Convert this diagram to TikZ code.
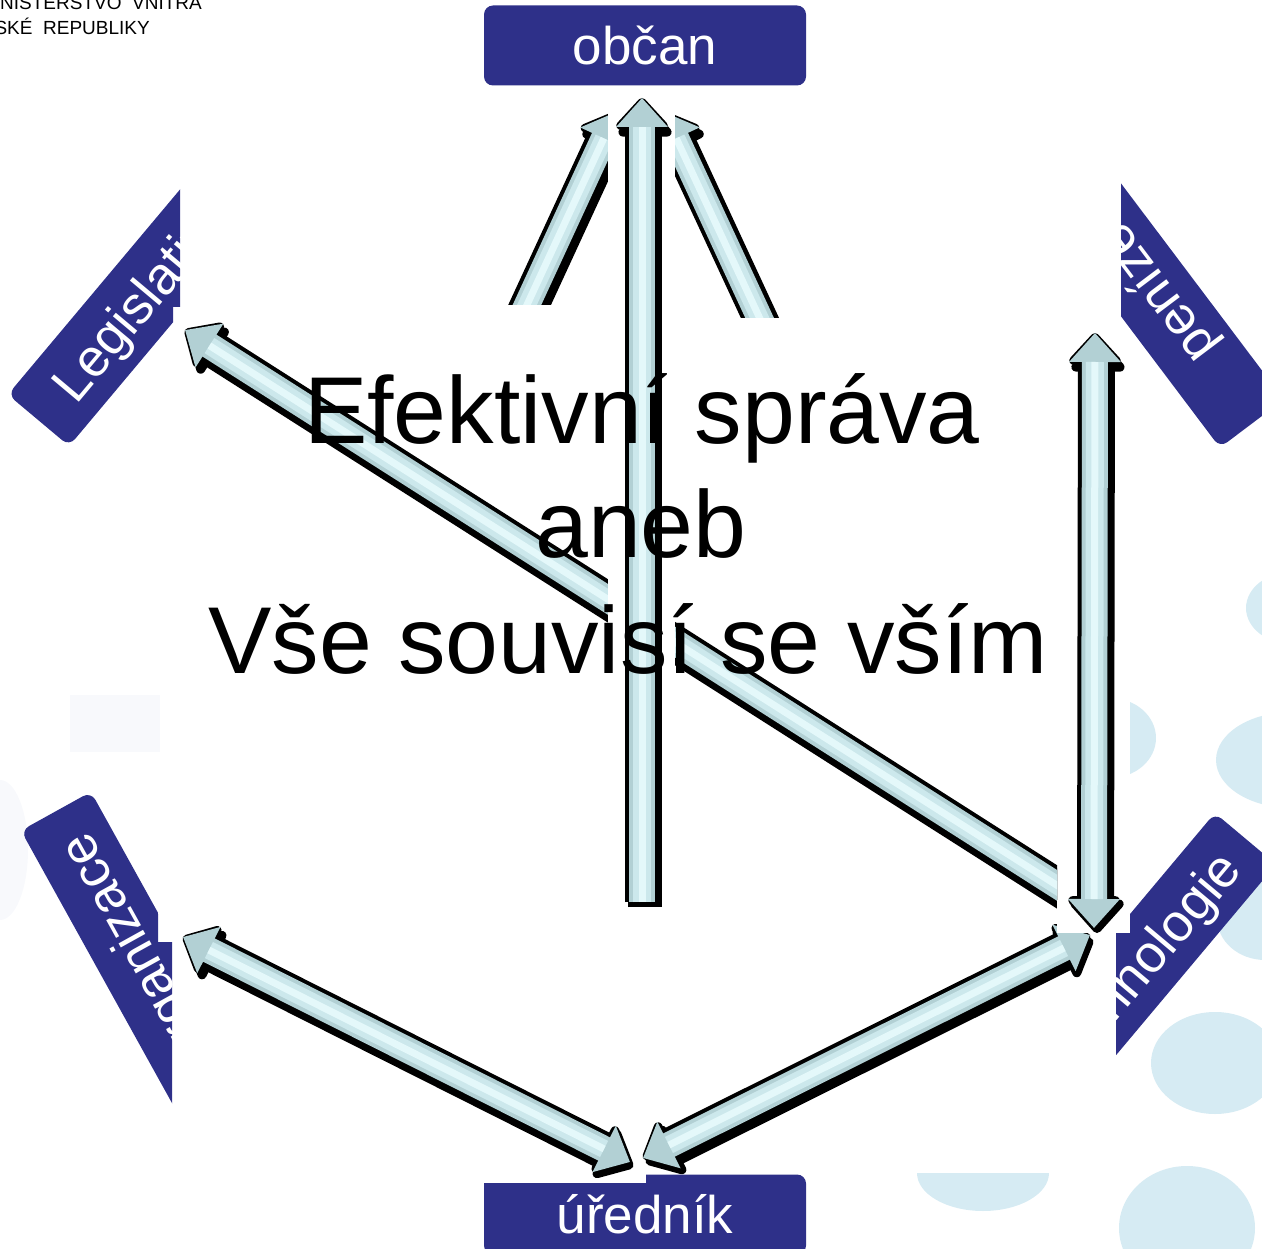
\documentclass[tikz,border=0pt]{standalone}
\usepackage{fontspec}
\setmainfont{Liberation Sans}
\usetikzlibrary{arrows.meta}
\definecolor{boxblue}{RGB}{46,48,137}
\definecolor{dotblue}{RGB}{214,235,243}
\definecolor{faintgrey}{RGB}{248,249,252}
\definecolor{arrmid}{RGB}{178,208,212}
\definecolor{arrlt}{RGB}{204,232,236}
\definecolor{arrhl}{RGB}{228,248,250}
\newcommand\myfatarrow[4]{%
  \draw[arrshadow,#1] ([shift={(3,5)}]#2) -- ([shift={(3,5)}]#3);
  \draw[arroutline,#1] (#2) -- (#3);
  \draw[arrbody,#1] (#2) -- (#3);
  \draw[arrlight,#4] (#2) -- (#3);
  \draw[arrhigh,#4] (#2) -- (#3);
}
\begin{document}
\begin{tikzpicture}[x=1pt,y=-1pt,
  bluebox/.style={fill=boxblue, text=white, rounded corners=9pt,
    minimum width=322pt, minimum height=80pt, inner sep=0pt,
    font=\fontsize{53}{60}\selectfont, text height=38pt, text depth=0pt},
  bigtext/.style={anchor=base, font=\fontsize{95}{110}\selectfont, inner sep=0pt},
  logotext/.style={anchor=base east, font=\fontsize{19}{22}\selectfont, text=black, inner sep=0pt},
  arrshadow/.style={line width=34pt, black, >={Triangle[width=62pt,length=36pt,round]}},
  arroutline/.style={line width=34pt, black, >={Triangle[width=60pt,length=34pt,round]}},
  arrbody/.style={line width=26pt, arrmid, >={Triangle[width=50pt,length=29pt]}},
  arrlight/.style={line width=18pt, arrlt},
  arrhigh/.style={line width=7pt, arrhl}]
\useasboundingbox (0,0) rectangle (1262,1249);
\clip (0,0) rectangle (1262,1249);

% faint background shapes
\fill[faintgrey] (70,695) rectangle (160,752);
\fill[faintgrey] (0,850) ellipse [x radius=28pt, y radius=70pt];
% light blue dots
\fill[dotblue] (1292,608) ellipse [x radius=46pt, y radius=36pt];
\begin{scope}
  \clip (1130,0) rectangle (1262,1249);
  \fill[dotblue] (1110,738) ellipse [x radius=46pt, y radius=40pt];
\end{scope}
\fill[dotblue] (1292,760) ellipse [x radius=76pt, y radius=48pt];
\fill[dotblue] (1265,918) ellipse [x radius=48pt, y radius=42pt];
\fill[dotblue] (1215,1063) ellipse [x radius=64pt, y radius=51pt];
\begin{scope}
  \clip (0,1173) rectangle (1262,1249);
  \fill[dotblue] (983,1173) ellipse [x radius=66pt, y radius=38pt];
\end{scope}
\fill[dotblue] (1187,1228) ellipse [x radius=68pt, y radius=62pt];

% rotated label boxes (partly hidden)
\begin{scope}
  \clip (0,0) -- (180,0) -- (180,307) -- (173,307) -- (173,1249) -- (0,1249) -- cycle;
  \node[bluebox, rotate=50] (leg) at (142,297) {Legislativa};
\end{scope}
\begin{scope}
  \clip (1121,0) -- (1262,0) -- (1262,1249) -- (1130,1249) -- (1130,328) -- (1121,328) -- cycle;
  \node[bluebox, rotate=127] (pen) at (1155,295) {peníze};
\end{scope}
\begin{scope}
  \clip (0,0) -- (158,0) -- (158,942) -- (172,942) -- (172,1249) -- (0,1249) -- cycle;
  \node[bluebox, rotate=119] (org) at (134,952) {organizace};
\end{scope}
\begin{scope}
  \clip (1116,0) rectangle (1262,1249);
  \node[bluebox, rotate=50] (tech) at (1142,962) {technologie};
\end{scope}

% logo text
\node[logotext] (logoA) at (202,10) {NISTERSTVO\ \ VNITRA};
\node[logotext] (logoB) at (150,35) {SKÉ\ \ REPUBLIKY};

% bottom box
\node[bluebox] (ured) at (645,1214.5) {úředník};
\fill[white] (480,1160) rectangle (646,1183);

% arrow end points
\coordinate (mA1) at (642,902);
\coordinate (mA2) at (642,98);
\coordinate (rA1) at (1095,333);
\coordinate (rA2) at (1094,928);
\coordinate (oL1) at (520,320);
\coordinate (oL2) at (616,112);
\coordinate (oR1) at (768,336);
\coordinate (oR2) at (664,112);
\coordinate (lg1) at (185,330);
\coordinate (lg2) at (1080,900);
\coordinate (e1) at (183,937);
\coordinate (e2) at (630,1162);
\coordinate (f1) at (643,1158);
\coordinate (f2) at (1090,935);

% arrows from the sides towards the citizen
\begin{scope}
  \clip (0,0) rectangle (1262,305);
  \myfatarrow{->}{oL1}{oL2}{shorten >=29pt}
\end{scope}
\begin{scope}
  \clip (0,0) rectangle (1262,318);
  \myfatarrow{->}{oR1}{oR2}{shorten >=29pt}
\end{scope}

% legislation - technology diagonal
\begin{scope}
  \clip (0,0) rectangle (1057,1249);
  \myfatarrow{<-}{lg1}{lg2}{shorten <=29pt}
\end{scope}

% bottom arrows
\myfatarrow{<->}{e1}{e2}{shorten <=29pt, shorten >=29pt}
\myfatarrow{<->}{f1}{f2}{shorten <=29pt, shorten >=29pt}

% white patches
\fill[white] (608,88) rectangle (675,915);
\fill[white] (1057,900) rectangle (1130,933);

% vertical arrows
\myfatarrow{->}{mA1}{mA2}{shorten >=29pt}
\myfatarrow{<->}{rA1}{rA2}{shorten <=29pt, shorten >=29pt}

% top box
\node[bluebox] (obcan) at (645,45.5) {občan};

% central title
\node[bigtext] (t1) at (642,443) {Efektivní správa};
\node[bigtext] (t2) at (641,557) {aneb};
\node[bigtext] (t3) at (628,673) {Vše souvisí se vším};
\end{tikzpicture}
\end{document}
